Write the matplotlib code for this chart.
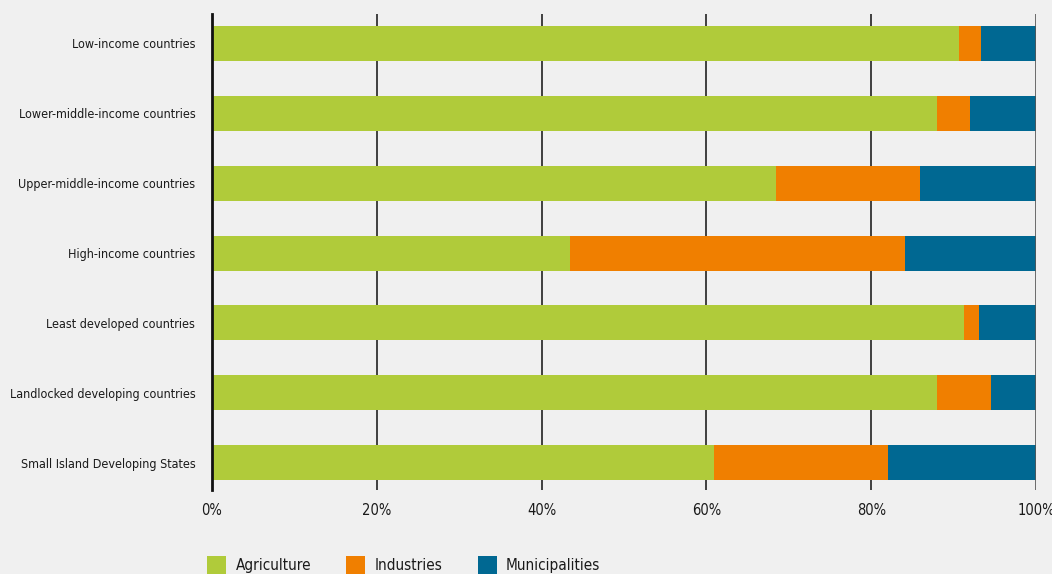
import matplotlib as mpl
mpl.use("Agg")
import matplotlib.pyplot as plt
import numpy as np
from matplotlib.patches import Patch
from matplotlib.ticker import FuncFormatter

CATEGORIES = [
    "Low-income countries",
    "Lower-middle-income countries",
    "Upper-middle-income countries",
    "High-income countries",
    "Least developed countries",
    "Landlocked developing countries",
    "Small Island Developing States",
]
AGRICULTURE = [90.7, 88.0, 68.5, 43.4, 91.3, 88.0, 60.9]
INDUSTRIES = [2.6, 4.0, 17.4, 40.7, 1.8, 6.5, 21.1]
MUNICIPALITIES = [6.7, 8.0, 14.1, 15.9, 6.9, 5.5, 18.0]
SERIES = ["Agriculture", "Industries", "Municipalities"]
COLORS = ["#b0cb3a", "#f07f00", "#006892"]

mpl.rcParams.update(
    {
        "font.family": ["DejaVu Sans"],
        "font.stretch": "condensed",
        "figure.facecolor": "#f0f0f0",
        "axes.facecolor": "#f0f0f0",
        "text.color": "#1a1a1a",
        "xtick.color": "#1a1a1a",
        "ytick.color": "#1a1a1a",
    }
)

fig = plt.figure(figsize=(10.52, 5.74), dpi=100)
ax = fig.add_axes([0.2015, 0.1463, 0.7833, 0.8293])

y = np.arange(len(CATEGORIES))
left = np.zeros(len(CATEGORIES))
for vals, name, color in zip([AGRICULTURE, INDUSTRIES, MUNICIPALITIES], SERIES, COLORS):
    ax.barh(y, vals, left=left, height=0.5, color=color, label=name, zorder=2)
    left += np.array(vals)

ax.set_xlim(0, 100)
ax.set_ylim(6.39, -0.42)
ax.set_yticks(y)
ax.set_yticklabels(CATEGORIES, fontsize=9)
ax.set_xticks([0, 20, 40, 60, 80, 100])
ax.xaxis.set_major_formatter(FuncFormatter(lambda v, _: f"{v:.0f}%"))
ax.tick_params(axis="x", length=0, labelsize=10.5, pad=9)
ax.tick_params(axis="y", length=0, pad=12)

for s in ["top", "right", "bottom"]:
    ax.spines[s].set_visible(False)
ax.spines["left"].set_linewidth(2)
ax.spines["left"].set_color("#111111")
ax.spines["left"].set_zorder(3)

for xv in [20, 40, 60, 80]:
    ax.axvline(xv, color="#222222", linewidth=1.2, zorder=1)
ax.axvline(100, color="#555555", linewidth=1.2, zorder=3)

handles = [Patch(facecolor=c, label=n) for n, c in zip(SERIES, COLORS)]
fig.legend(
    handles=handles,
    loc="lower left",
    bbox_to_anchor=(0.184, -0.024),
    ncol=3,
    frameon=False,
    fontsize=11,
    handlelength=1.25,
    handleheight=1.4,
    handletextpad=0.6,
    columnspacing=2.3,
)

fig.savefig("out.png", dpi=100, facecolor=fig.get_facecolor())
